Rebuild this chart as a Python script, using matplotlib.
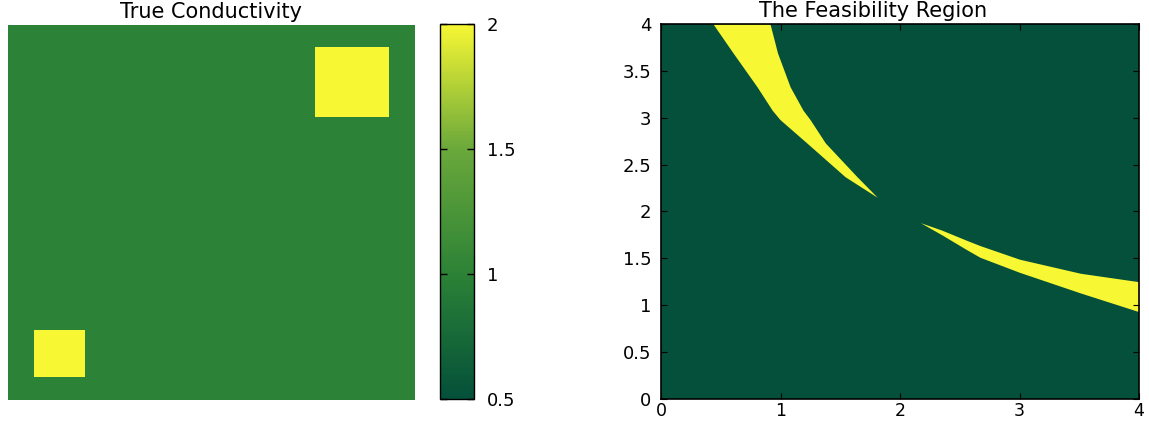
#!/usr/bin/env python3
"""True conductivity map and the feasibility region of the two inclusions."""
import numpy as np
import matplotlib
matplotlib.use("Agg")
import matplotlib.pyplot as plt
from matplotlib.colors import LinearSegmentedColormap, Normalize
from matplotlib.cm import ScalarMappable

# colour scale of the conductivity
CMAP_VALUES = [0.5, 1.0, 1.5, 2.0]
CMAP_COLORS = ["#04503a", "#2c8236", "#6aa83b", "#f7f733"]
VMIN, VMAX = 0.5, 2.0
CBAR_TICKS = [0.5, 1, 1.5, 2]

# true conductivity: background plus two square inclusions (unit square domain)
BACKGROUND = 1.0
INCLUSION_VALUE = 2.0
INCL_X0 = [0.064, 0.754]
INCL_X1 = [0.189, 0.936]
INCL_Y0 = [0.061, 0.752]
INCL_Y1 = [0.187, 0.939]
GRID_N = 400

# feasibility region, upper-left branch (x edges as functions of y)
UPPER_Y = [4.0, 3.69, 3.33, 3.08, 2.98, 2.73, 2.37, 2.15]
UPPER_XL = [0.435, 0.603, 0.803, 0.93, 0.995, 1.22, 1.54, 1.81]
UPPER_XR = [0.912, 0.975, 1.080, 1.188, 1.247, 1.375, 1.64, 1.81]

# feasibility region, lower-right branch (y edges as functions of x)
LOWER_X = [2.17, 2.35, 2.56, 2.67, 3.00, 3.51, 4.0]
LOWER_YB = [1.88, 1.75, 1.59, 1.51, 1.35, 1.13, 0.93]
LOWER_YT = [1.88, 1.80, 1.69, 1.635, 1.49, 1.34, 1.25]

XTICKS = [0, 1, 2, 3, 4]
YTICKS = [0, 0.5, 1, 1.5, 2, 2.5, 3, 3.5, 4]
TICK_LABELS_Y = ["0", "0.5", "1", "1.5", "2", "2.5", "3", "3.5", "4"]

FONT = "DejaVu Sans"


def conductivity_grid():
    c = (np.arange(GRID_N) + 0.5) / GRID_N
    xx, yy = np.meshgrid(c, c)
    sigma = np.full((GRID_N, GRID_N), BACKGROUND)
    for x0, x1, y0, y1 in zip(INCL_X0, INCL_X1, INCL_Y0, INCL_Y1):
        sigma[(xx >= x0) & (xx <= x1) & (yy >= y0) & (yy <= y1)] = INCLUSION_VALUE
    return sigma


def main():
    plt.rcParams["font.family"] = [FONT]
    cmap = LinearSegmentedColormap.from_list(
        "cond",
        [((v - VMIN) / (VMAX - VMIN), col) for v, col in zip(CMAP_VALUES, CMAP_COLORS)],
    )
    norm = Normalize(VMIN, VMAX)

    fig = plt.figure(figsize=(11.49, 4.23), dpi=100)
    ax_l = fig.add_axes([0.007, 0.054, 0.354, 0.887])
    ax_cb = fig.add_axes([0.383, 0.057, 0.0296, 0.886])
    ax_r = fig.add_axes([0.5753, 0.057, 0.416, 0.8865])

    # left: true conductivity
    ax_l.imshow(conductivity_grid(), cmap=cmap, norm=norm, origin="lower",
                extent=(0, 1, 0, 1), aspect="auto", interpolation="nearest")
    ax_l.set_xticks([])
    ax_l.set_yticks([])
    for s in ax_l.spines.values():
        s.set_visible(False)
    ax_l.set_title("True Conductivity", fontsize=15, pad=5)

    cb = fig.colorbar(ScalarMappable(norm=norm, cmap=cmap), cax=ax_cb, ticks=CBAR_TICKS)
    cb.ax.set_yticklabels(["0.5", "1", "1.5", "2"])
    cb.ax.tick_params(direction="in", length=5, width=1, labelsize=13, pad=9,
                      left=True, right=True)
    cb.outline.set_linewidth(1.0)

    # right: feasibility region
    ax_r.set_facecolor(cmap(0.0))
    ax_r.fill_betweenx(UPPER_Y, UPPER_XL, UPPER_XR, color=cmap(1.0), lw=0)
    ax_r.fill_between(LOWER_X, LOWER_YB, LOWER_YT, color=cmap(1.0), lw=0)
    ax_r.set_xlim(0, 4)
    ax_r.set_ylim(0, 4)
    ax_r.set_xticks(XTICKS)
    ax_r.set_yticks(YTICKS)
    ax_r.set_yticklabels(TICK_LABELS_Y)
    ax_r.tick_params(direction="in", length=4, width=0.8, labelsize=13,
                     top=True, right=True)
    ax_r.tick_params(axis="y", pad=7)
    ax_r.tick_params(axis="x", pad=2, labelsize=12.5)
    for s in ax_r.spines.values():
        s.set_linewidth(1.2)
    ax_r.set_title("The Feasibility Region", fontsize=15, pad=5, x=0.444)

    fig.savefig("out.png", dpi=100)
    plt.close(fig)


if __name__ == "__main__":
    main()
